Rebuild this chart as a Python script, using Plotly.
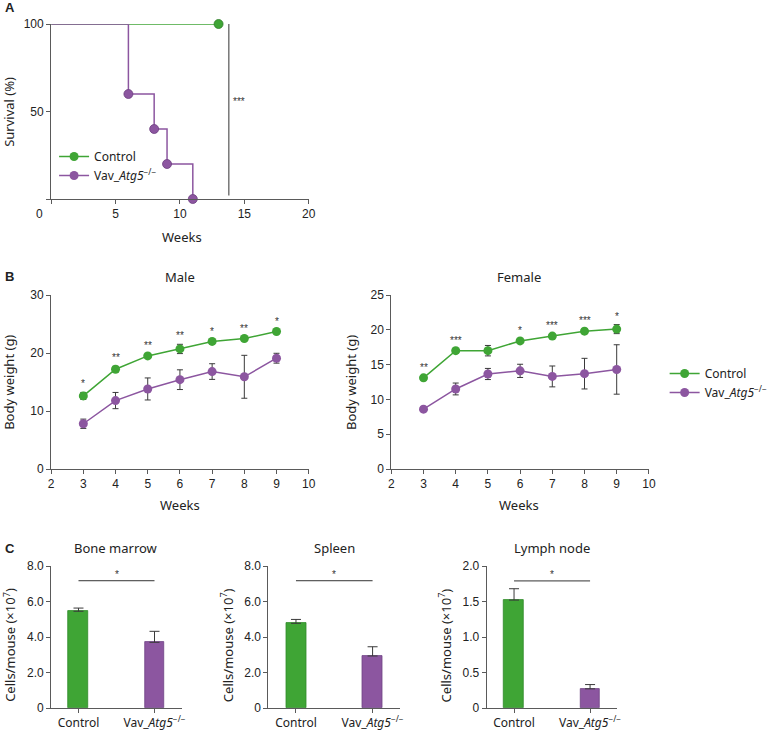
import plotly.graph_objects as go

# ---------------- data ----------------
GREEN = "#3fa535"
PURPLE = "#8c56a0"
ERRC = "#3a3a3a"

# Panel A: survival
surv_ctrl_weeks = [0, 13]
surv_ctrl_pct = [100, 100]
surv_vav_weeks = [0, 6, 8, 9, 11]
surv_vav_pct = [100, 60, 40, 20, 0]
surv_sig_week = 13.8
surv_sig_text = "***"

# Panel B: body weight
bw_weeks = [3, 4, 5, 6, 7, 8, 9]
male_ctrl = [12.6, 17.2, 19.5, 20.7, 22.0, 22.5, 23.7]
male_ctrl_err = [0.6, 0.5, 0.3, 0.8, 0.3, 0.3, 0.3]
male_vav = [7.8, 11.8, 13.8, 15.4, 16.8, 15.9, 19.1]
male_vav_err = [0.8, 1.4, 1.9, 1.7, 1.35, 3.7, 0.85]
male_sig = ["*", "**", "**", "**", "*", "**", "*"]

female_ctrl = [13.1, 17.0, 17.0, 18.4, 19.1, 19.8, 20.1]
female_ctrl_err = [0.3, 0.3, 0.75, 0.3, 0.3, 0.3, 0.65]
female_vav = [8.6, 11.5, 13.65, 14.1, 13.3, 13.7, 14.3]
female_vav_err = [0.3, 0.85, 0.8, 0.95, 1.5, 2.2, 3.55]
female_sig = ["**", "***", "", "*", "***", "***", "*"]

# Panel C: cellularity
groups = ["Control", "Vav_<i>Atg5</i><sup>−/−</sup>"]
bm_vals = [5.45, 3.7]
bm_err = [0.18, 0.62]
spleen_vals = [4.77, 2.93]
spleen_err = [0.22, 0.52]
ln_vals = [1.52, 0.27]
ln_err = [0.16, 0.06]
bm_sig_y, spleen_sig_y, ln_sig_y = 7.17, 7.17, 1.79

W, H = 773, 733
NUMFONT = "Liberation Sans, Arial, sans-serif"
TXTFONT = "Noto Sans, Open Sans, sans-serif"
AXC = "#5a5a5a"


def px_x(p):
    return p / W


def px_y(p):
    return 1 - p / H


fig = go.Figure()

# ---------- Panel A ----------
fig.add_trace(go.Scatter(x=surv_ctrl_weeks, y=surv_ctrl_pct, mode="lines", line=dict(color=GREEN, width=1.5, shape="hv"),
                         showlegend=False, xaxis="x", yaxis="y", cliponaxis=False))
fig.add_trace(go.Scatter(x=surv_ctrl_weeks[1:], y=surv_ctrl_pct[1:], mode="markers",
                         marker=dict(color=GREEN, size=9, line=dict(color="#2e7d28", width=0.8)),
                         showlegend=False, xaxis="x", yaxis="y", cliponaxis=False))
fig.add_trace(go.Scatter(x=surv_vav_weeks, y=surv_vav_pct, mode="lines", line=dict(color=PURPLE, width=1.5, shape="hv"),
                         showlegend=False, xaxis="x", yaxis="y", cliponaxis=False))
fig.add_trace(go.Scatter(x=surv_vav_weeks[1:], y=surv_vav_pct[1:], mode="markers",
                         marker=dict(color=PURPLE, size=9, line=dict(color="#6d3f80", width=0.8)),
                         showlegend=False, xaxis="x", yaxis="y", cliponaxis=False))
# legend entries A
fig.add_trace(go.Scatter(x=[None], y=[None], mode="lines+markers", name="Control",
                         line=dict(color=GREEN, width=1.5), marker=dict(color=GREEN, size=9),
                         legend="legend", xaxis="x", yaxis="y"))
fig.add_trace(go.Scatter(x=[None], y=[None], mode="lines+markers", name="Vav_<i>Atg5</i><sup>−/−</sup>",
                         line=dict(color=PURPLE, width=1.5), marker=dict(color=PURPLE, size=9),
                         legend="legend", xaxis="x", yaxis="y"))

# ---------- Panel B ----------
def add_bw(xa, ya, ctrl, ctrl_err, vav, vav_err):
    fig.add_trace(go.Scatter(x=bw_weeks, y=vav, mode="lines+markers", name="Vav_<i>Atg5</i><sup>−/−</sup>",
                             line=dict(color=PURPLE, width=1.5), marker=dict(color=PURPLE, size=9),
                             error_y=dict(type="data", array=vav_err, color=ERRC, thickness=1, width=3),
                             showlegend=False, xaxis=xa, yaxis=ya, cliponaxis=False))
    fig.add_trace(go.Scatter(x=bw_weeks, y=ctrl, mode="lines+markers", name="Control",
                             line=dict(color=GREEN, width=1.5), marker=dict(color=GREEN, size=9),
                             error_y=dict(type="data", array=ctrl_err, color=ERRC, thickness=1, width=3),
                             showlegend=False, xaxis=xa, yaxis=ya, cliponaxis=False))


add_bw("x2", "y2", male_ctrl, male_ctrl_err, male_vav, male_vav_err)
add_bw("x3", "y3", female_ctrl, female_ctrl_err, female_vav, female_vav_err)
fig.add_trace(go.Scatter(x=[None], y=[None], mode="lines+markers", name="Control",
                         line=dict(color=GREEN, width=1.5), marker=dict(color=GREEN, size=9),
                         legend="legend2", xaxis="x3", yaxis="y3"))
fig.add_trace(go.Scatter(x=[None], y=[None], mode="lines+markers", name="Vav_<i>Atg5</i><sup>−/−</sup>",
                         line=dict(color=PURPLE, width=1.5), marker=dict(color=PURPLE, size=9),
                         legend="legend2", xaxis="x3", yaxis="y3"))

annotations = []
for xa, ya, ctrl, err, sig in [("x2", "y2", male_ctrl, male_ctrl_err, male_sig),
                               ("x3", "y3", female_ctrl, female_ctrl_err, female_sig)]:
    for wk, c, e, s in zip(bw_weeks, ctrl, err, sig):
        if s:
            annotations.append(dict(x=wk, y=c + e, xref=xa, yref=ya, text=s, showarrow=False,
                                    yanchor="bottom", yshift=1, font=dict(family=NUMFONT, size=10, color="#333")))

# ---------- Panel C ----------
shapes = []
for i, (xa, ya, vals, err, sy) in enumerate([("x4", "y4", bm_vals, bm_err, bm_sig_y),
                                             ("x5", "y5", spleen_vals, spleen_err, spleen_sig_y),
                                             ("x6", "y6", ln_vals, ln_err, ln_sig_y)]):
    fig.add_trace(go.Bar(x=[0, 1], y=vals, width=0.26,
                         marker=dict(color=[GREEN, PURPLE], line=dict(color=["#2f8a28", "#6f4284"], width=0.8)),
                         error_y=dict(type="data", symmetric=False, array=err, arrayminus=[0, 0],
                                      color=ERRC, thickness=1, width=5),
                         showlegend=False, xaxis=xa, yaxis=ya))
    shapes.append(dict(type="line", xref=xa, yref=ya, x0=0, x1=1, y0=sy, y1=sy,
                       line=dict(color="#333", width=1)))
    annotations.append(dict(x=0.5, y=sy, xref=xa, yref=ya, text="*", showarrow=False, yanchor="bottom",
                            yshift=-1, font=dict(family=NUMFONT, size=10, color="#333")))

# survival significance line
shapes.append(dict(type="line", xref="x", yref="y", x0=surv_sig_week, x1=surv_sig_week, y0=2, y1=100,
                   line=dict(color="#333", width=1)))
annotations.append(dict(x=surv_sig_week, y=56, xref="x", yref="y", text=surv_sig_text, showarrow=False,
                        xanchor="left", xshift=2, font=dict(family=NUMFONT, size=10, color="#333")))

# text labels (paper coords)
def txt(x, y, t, size=13, angle=0, bold=False, family=TXTFONT, xanchor="center"):
    annotations.append(dict(x=px_x(x), y=px_y(y), xref="paper", yref="paper", text=("<b>%s</b>" % t) if bold else t,
                            showarrow=False, textangle=angle, xanchor=xanchor, yanchor="middle",
                            font=dict(family=family, size=size, color="#222")))

txt(3, 8, "A", 13, bold=True, family=NUMFONT, xanchor="left")
txt(3, 277, "B", 13, bold=True, family=NUMFONT, xanchor="left")
txt(3, 548, "C", 13, bold=True, family=NUMFONT, xanchor="left")
txt(9, 112, "Survival (%)", angle=-90)
txt(185, 237, "Weeks")
txt(40, 214, "0", 12, family=NUMFONT)
txt(183, 277, "Male")
txt(528, 277, "Female")
txt(9, 382, "Body weight (g)", angle=-90)
txt(357, 382, "Body weight (g)", angle=-90)
txt(183, 505, "Weeks")
txt(528, 505, "Weeks")
txt(118, 548, "Bone marrow")
txt(340, 548, "Spleen")
txt(561, 548, "Lymph node")
txt(9, 645, "Cells/mouse (×10<sup>7</sup>)", angle=-90)
txt(230, 645, "Cells/mouse (×10<sup>7</sup>)", angle=-90)
txt(452, 645, "Cells/mouse (×10<sup>7</sup>)", angle=-90)

base_ax = dict(showline=True, linecolor=AXC, linewidth=1, ticks="outside", ticklen=4, tickwidth=1,
               tickcolor=AXC, showgrid=False, zeroline=False, automargin=False,
               tickfont=dict(family=NUMFONT, size=12, color="#222"))

def ax(**kw):
    d = dict(base_ax)
    d.update(kw)
    return d

layout = dict(
    template="none",
    width=W, height=H, margin=dict(l=0, r=0, t=0, b=0),
    paper_bgcolor="white", plot_bgcolor="white",
    showlegend=True,
    xaxis=ax(domain=[px_x(52), px_x(314)], range=[0, 20], tickvals=[0, 5, 10, 15, 20],
             ticktext=["", "5", "10", "15", "20"], anchor="y"),
    yaxis=ax(domain=[px_y(199), px_y(24)], range=[0, 100], tickvals=[0, 50, 100], ticktext=["", "50", "100"], anchor="x"),
    xaxis2=ax(domain=[px_x(52), px_x(314)], range=[2, 10], dtick=1, anchor="y2"),
    yaxis2=ax(domain=[px_y(469), px_y(295)], range=[0, 30], dtick=10, anchor="x2"),
    xaxis3=ax(domain=[px_x(398), px_x(660)], range=[2, 10], dtick=1, anchor="y3"),
    yaxis3=ax(domain=[px_y(469), px_y(295)], range=[0, 25], dtick=5, anchor="x3"),
    xaxis4=ax(domain=[px_x(52), px_x(185)], range=[-0.36, 1.36], tickvals=[0, 1], ticktext=groups,
              tickfont=dict(family=TXTFONT, size=12, color="#222"), anchor="y4"),
    yaxis4=ax(domain=[px_y(708), px_y(566)], range=[0, 8], tickvals=[0, 2, 4, 6, 8],
              ticktext=["0", "2.0", "4.0", "6.0", "8.0"], anchor="x4"),
    xaxis5=ax(domain=[px_x(273), px_x(407)], range=[-0.36, 1.36], tickvals=[0, 1], ticktext=groups,
              tickfont=dict(family=TXTFONT, size=12, color="#222"), anchor="y5"),
    yaxis5=ax(domain=[px_y(708), px_y(566)], range=[0, 8], tickvals=[0, 2, 4, 6, 8],
              ticktext=["0", "2.0", "4.0", "6.0", "8.0"], anchor="x5"),
    xaxis6=ax(domain=[px_x(495), px_x(628)], range=[-0.36, 1.36], tickvals=[0, 1], ticktext=groups,
              tickfont=dict(family=TXTFONT, size=12, color="#222"), anchor="y6"),
    yaxis6=ax(domain=[px_y(708), px_y(566)], range=[0, 2], tickvals=[0, 0.5, 1, 1.5, 2],
              ticktext=["0", "0.5", "1.0", "1.5", "2.0"], anchor="x6"),
    legend=dict(x=px_x(55), y=px_y(142), xanchor="left", yanchor="top", bgcolor="rgba(0,0,0,0)",
                font=dict(family=TXTFONT, size=12, color="#222"), itemwidth=30, tracegroupgap=0),
    legend2=dict(x=px_x(676), y=px_y(359), xanchor="left", yanchor="top", bgcolor="rgba(0,0,0,0)",
                 font=dict(family=TXTFONT, size=12, color="#222"), itemwidth=30, tracegroupgap=0),
    shapes=shapes,
    annotations=annotations,
    bargap=0,
)
fig.update_layout(**layout)
fig.write_html("out.html", config={"displayModeBar": False},
               post_script="document.body.style.margin='0';document.body.style.overflow='hidden';")
